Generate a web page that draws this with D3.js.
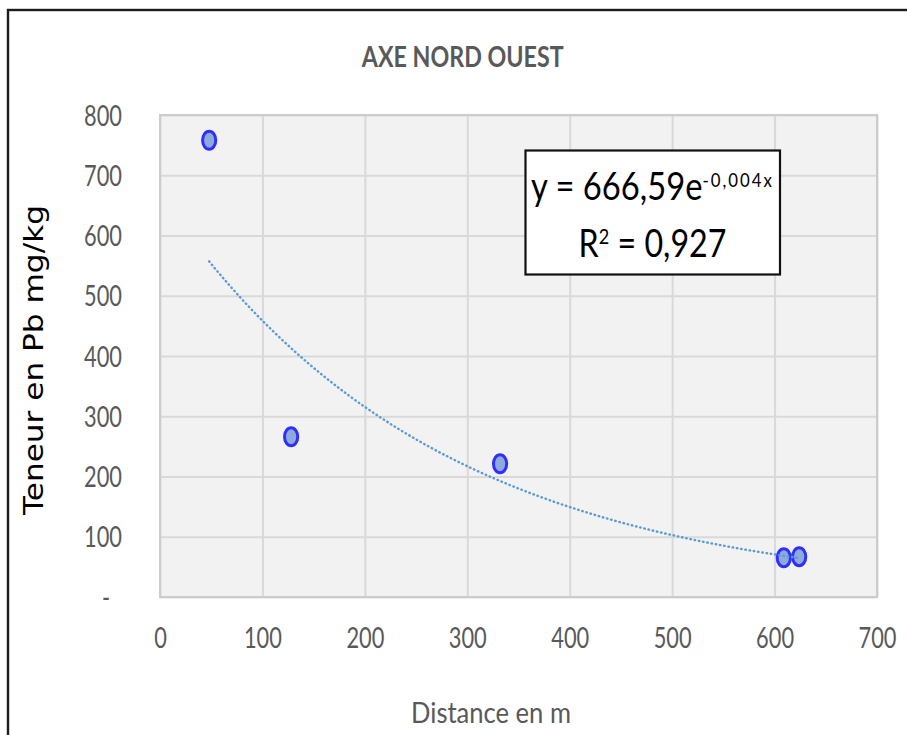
<!DOCTYPE html>
<html>
<head>
<meta charset="utf-8">
<script src="https://cdn.jsdelivr.net/npm/d3@7"></script>
<style>
  html, body { margin: 0; padding: 0; background: #fff; overflow: hidden; }
  svg { display: block; }
</style>
</head>
<body>
<svg id="chart" width="907" height="735"></svg>
<script>
// Lead content (mg/kg) measured along the north-west axis
const distances   = [48, 128, 332, 609, 624];
const leadContent = [758, 266, 221, 65, 67];

const xTickValues = [0, 100, 200, 300, 400, 500, 600, 700];
const yTickValues = [0, 100, 200, 300, 400, 500, 600, 700, 800];
const yTickLabels = ["-", "100", "200", "300", "400", "500", "600", "700", "800"];

// Exponential trend y = a * e^(b x)
const trendCoef = 666.59;
const trendRate = -0.00374;
const trendR2   = 0.927;

const chartTitle = "AXE NORD OUEST";
const xTitle = "Distance en m";
const yTitle = "Teneur en Pb mg/kg";

const W = 907, H = 735;
const plot = { left: 160, top: 115, right: 877, bottom: 597 };
const FONT = "Lato, 'Open Sans', 'Liberation Sans', sans-serif";
const GREY_TEXT = "#595959";

const svg = d3.select("#chart");

const x = d3.scaleLinear().domain([0, 700]).range([plot.left, plot.right]);
const y = d3.scaleLinear().domain([0, 800]).range([plot.bottom, plot.top]);

// decimal comma formatting
const fr = (v, n) => v.toFixed(n).replace(".", ",");

// horizontal factor that brings a text's advance to a given width
function fitWidth(sel, width) {
  const len = sel.node().getComputedTextLength();
  return width / len;
}

// chart frame
svg.append("rect")
  .attr("x", 8).attr("y", 10)
  .attr("width", W + 40).attr("height", H + 40)
  .attr("fill", "#fff")
  .attr("stroke", "#1c1c1c")
  .attr("stroke-width", 2.4);

// plot area background
svg.append("rect")
  .attr("x", plot.left).attr("y", plot.top)
  .attr("width", plot.right - plot.left)
  .attr("height", plot.bottom - plot.top)
  .attr("fill", "#f2f2f2");

// gridlines
const gx = svg.append("g")
  .attr("transform", `translate(0,${plot.bottom})`)
  .call(d3.axisBottom(x).tickValues(xTickValues)
    .tickSize(-(plot.bottom - plot.top)).tickFormat(""));
gx.select(".domain").remove();
gx.selectAll("line").attr("stroke", "#d9d9d9").attr("stroke-width", 2);

const gy = svg.append("g")
  .attr("transform", `translate(${plot.left},0)`)
  .call(d3.axisLeft(y).tickValues(yTickValues)
    .tickSize(-(plot.right - plot.left)).tickFormat(""));
gy.select(".domain").remove();
gy.selectAll("line").attr("stroke", "#d9d9d9").attr("stroke-width", 2);

// plot area border
svg.append("rect")
  .attr("x", plot.left).attr("y", plot.top)
  .attr("width", plot.right - plot.left)
  .attr("height", plot.bottom - plot.top)
  .attr("fill", "none")
  .attr("stroke", "#cccccc")
  .attr("stroke-width", 2);

// tick labels
const xAxis = svg.append("g")
  .attr("transform", `translate(0,${plot.bottom})`)
  .call(d3.axisBottom(x).tickValues(xTickValues).tickSize(0).tickFormat(d3.format("d")));
xAxis.select(".domain").remove();

const yAxis = svg.append("g")
  .attr("transform", `translate(${plot.left},0)`)
  .call(d3.axisLeft(y).tickValues(yTickValues).tickSize(0)
    .tickFormat((d, i) => yTickLabels[i]));
yAxis.select(".domain").remove();

[xAxis, yAxis].forEach(g => g.selectAll("text")
  .attr("x", null).attr("y", null).attr("dy", null)
  .attr("font-family", FONT)
  .attr("font-size", 28)
  .attr("fill", GREY_TEXT));

const probe = yAxis.selectAll("text").filter(d => d === 800);
const tickSx = fitWidth(probe, 38);

xAxis.selectAll("text")
  .attr("text-anchor", "middle")
  .attr("transform", `translate(0,51) scale(${tickSx},1)`);

yAxis.selectAll("text")
  .attr("text-anchor", "end")
  .attr("transform", d => `translate(${d === 0 ? -50 : -38},10) scale(${tickSx},1)`);

// markers
svg.append("g")
  .selectAll("ellipse")
  .data(distances.map((d, i) => [d, leadContent[i]]))
  .join("ellipse")
  .attr("cx", d => x(d[0]))
  .attr("cy", d => y(d[1]))
  .attr("rx", 6.6)
  .attr("ry", 9)
  .attr("fill", "#8eaadb")
  .attr("stroke", "#2f2fff")
  .attr("stroke-width", 3);

// exponential trendline over the measured range
const xs = d3.range(d3.min(distances), d3.max(distances) + 0.1, 2);
const trend = d3.line()
  .x(d => x(d))
  .y(d => y(trendCoef * Math.exp(trendRate * d)));
svg.append("path")
  .datum(xs)
  .attr("d", trend)
  .attr("fill", "none")
  .attr("stroke", "#5b9bd5")
  .attr("stroke-width", 2.4)
  .attr("stroke-linecap", "round")
  .attr("stroke-dasharray", "0.5 3.8");

// equation label
svg.append("rect")
  .attr("x", 525.5).attr("y", 150.5)
  .attr("width", 254.5).attr("height", 124)
  .attr("fill", "#fff")
  .attr("stroke", "#111")
  .attr("stroke-width", 2.2);

const eq1 = svg.append("text")
  .attr("font-family", FONT)
  .attr("font-size", 39)
  .attr("fill", "#000")
  .attr("text-anchor", "middle");
eq1.append("tspan").text(`y = ${fr(trendCoef, 2)}e`);
eq1.append("tspan")
  .attr("font-size", 20)
  .attr("letter-spacing", 2.4)
  .attr("dy", -13)
  .text(`${fr(trendRate, 3)}x`);
eq1.attr("transform", `translate(652.5,200) scale(${fitWidth(eq1, 243)},1)`);

const eq2 = svg.append("text")
  .attr("font-family", FONT)
  .attr("font-size", 39)
  .attr("fill", "#000")
  .attr("text-anchor", "middle");
eq2.append("tspan").text("R");
eq2.append("tspan").attr("font-size", 22).attr("dy", -13).text("2");
eq2.append("tspan").attr("dy", 13).text(` = ${fr(trendR2, 3)}`);
eq2.attr("transform", `translate(652.5,257) scale(${fitWidth(eq2, 148)},1)`);

// titles
const title = svg.append("text")
  .attr("font-family", FONT)
  .attr("font-weight", "bold")
  .attr("font-size", 28)
  .attr("fill", GREY_TEXT)
  .attr("text-anchor", "middle")
  .text(chartTitle);
title.attr("transform", `translate(462.7,67) scale(${fitWidth(title, 202)},1)`);

const xLab = svg.append("text")
  .attr("font-family", FONT)
  .attr("font-size", 28)
  .attr("fill", GREY_TEXT)
  .attr("text-anchor", "middle")
  .text(xTitle);
xLab.attr("transform", `translate(491,723) scale(${fitWidth(xLab, 160)},1)`);

const yLab = svg.append("text")
  .attr("font-family", "'DejaVu Sans', Verdana, sans-serif")
  .attr("font-size", 27)
  .attr("fill", "#000")
  .attr("text-anchor", "middle")
  .text(yTitle);
yLab.attr("transform", `translate(43,360) rotate(-90) scale(${fitWidth(yLab, 310)},1)`);
</script>
</body>
</html>
